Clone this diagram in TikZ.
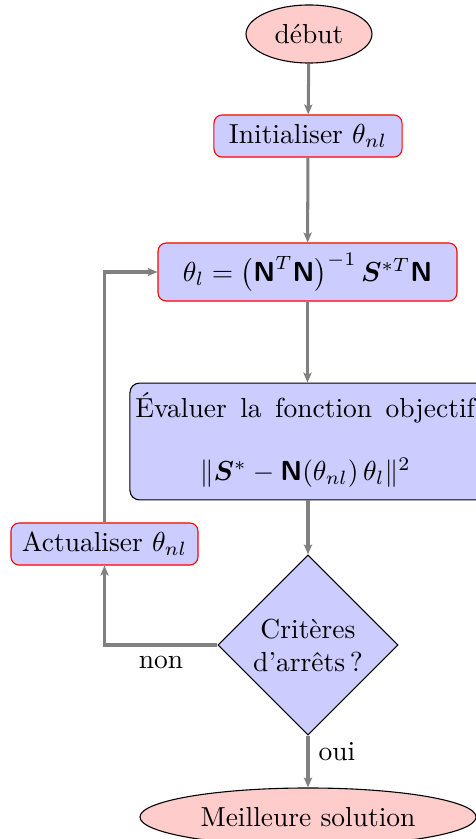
\documentclass[tikz,border=0pt]{standalone}
\usepackage{amsmath,bm}
\usetikzlibrary{shapes.geometric,arrows.meta}
\newcommand{\Nmat}{\textsf{\bfseries N}}
\begin{document}
\begin{tikzpicture}[x=0.3636pt,y=-0.3636pt,
  proc/.style={draw=red, fill=blue!20, rounded corners=3pt, inner sep=1pt, align=center},
  term/.style={ellipse, draw=black, fill=red!20, inner sep=0pt},
  dec/.style={diamond, draw=black, fill=blue!20, inner sep=0pt, minimum size=65.5pt, align=center},
  conn/.style={draw=gray, line width=1.1pt, -{Stealth[length=3.6pt,width=3pt,inset=0.8pt]}}]
\useasboundingbox (0,0) rectangle (475,839);
\node[term, minimum width=45.8pt, minimum height=21.1pt] (start) at (309,34) {début};
\node[proc, minimum width=68.4pt, minimum height=15.3pt] (init) at (308,136) {Initialiser $\theta_{nl}$};
\node[proc, minimum width=108.7pt, minimum height=21.1pt] (theta) at (307.5,272)
  {$\theta_l=\bigl(\Nmat^T\Nmat\bigr)^{-1}\,\bm{S}^{*T}\Nmat$};
\node[draw=black, fill=blue!20, rounded corners=3.5pt, inner sep=1pt, minimum width=129.5pt, minimum height=42.5pt] (eval) at (308,441.5)
  {\begin{tabular}{@{}c@{}}\makebox[123.5pt][s]{Évaluer la fonction objectif}\\[11pt]$\|\bm{S}^{*}-\Nmat(\theta_{nl})\,\theta_l\|^2$\end{tabular}\hspace*{2pt}};
\node[proc, minimum width=68pt, minimum height=15.3pt] (upd) at (104.5,544) {Actualiser $\theta_{nl}$};
\node[dec] (crit) at (308,645) {Critères\\d'arrêts\,?};
\node[term, minimum width=122.2pt, minimum height=21.1pt] (best) at (308,817) {Meilleure solution};
\draw[conn] (start) -- (init);
\draw[conn] (init) -- (theta);
\draw[conn] (theta.south) -- (theta.south |- eval.north);
\draw[conn] (eval.south -| crit) -- (crit);
\draw[conn] (crit) -- node[pos=0.3, right]{oui} (best);
\draw[conn] (crit.west) -| node[pos=0.25, below]{non} (upd);
\draw[conn] (upd) |- (theta);
\end{tikzpicture}
\end{document}
